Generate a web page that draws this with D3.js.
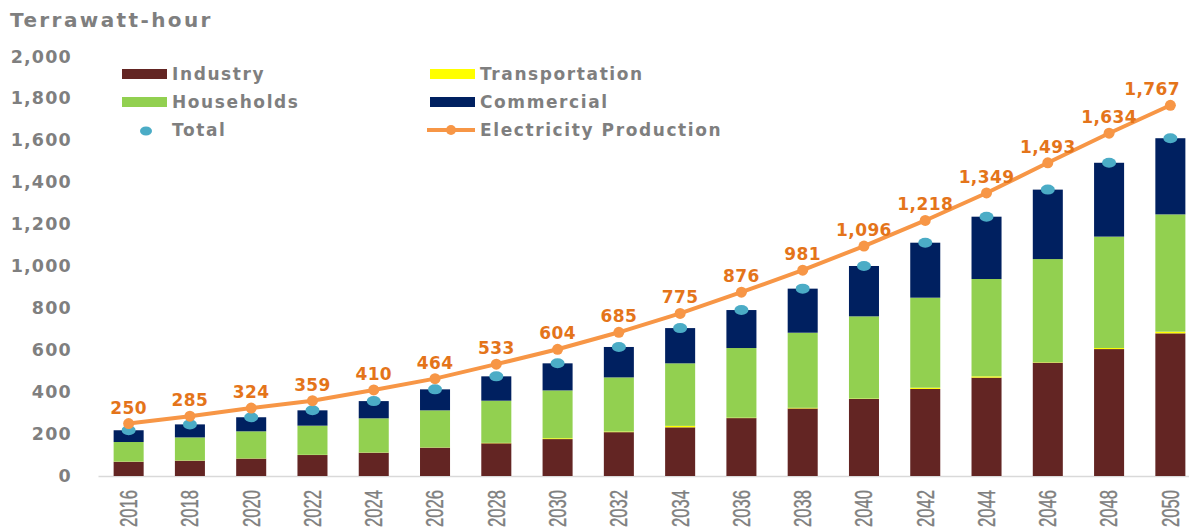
<!DOCTYPE html>
<html>
<head>
<meta charset="utf-8">
<script src="https://cdn.jsdelivr.net/npm/d3@7"></script>
<style>
    body { margin: 0; background: #fff; }
    svg { display: block; }
</style>
</head>
<body>
<div id="chart"></div>
<script>
/*global d3:true*/
var years = ["2016", "2018", "2020", "2022", "2024", "2026", "2028", "2030", "2032",
    "2034", "2036", "2038", "2040", "2042", "2044", "2046", "2048", "2050"];
var industry = [68, 73, 83, 100, 111, 135, 156, 176, 209, 232, 276, 322, 367, 415, 469, 540, 605, 680];
var transportation = [1, 1, 1, 1, 1, 1, 2, 4, 3, 7, 2, 3, 2, 6, 6, 2, 5, 8];
var households = [93, 110, 129, 139, 163, 177, 201, 228, 258, 298, 332, 358, 392, 429, 464, 492, 531, 559];
var commercial = [56, 62, 67, 73, 82, 100, 116, 129, 145, 168, 181, 210, 240, 262, 297, 331, 352, 363];
var total = [218, 246, 280, 313, 357, 413, 475, 537, 615, 705, 791, 893, 1001, 1112, 1236, 1365, 1493, 1610];
var production = [250, 285, 324, 359, 410, 464, 533, 604, 685, 775, 876, 981, 1096, 1218, 1349, 1493, 1634, 1767];
var yTicks = [0, 200, 400, 600, 800, 1000, 1200, 1400, 1600, 1800, 2000];
var seriesNames = ["Industry", "Transportation", "Households", "Commercial"];

var EnergyChart = {
    init: function(){
        this.colours = {
            Industry: "#632523",
            Transportation: "#FFFF00",
            Households: "#92D050",
            Commercial: "#002060",
            total: "#4BACC6",
            line: "#F79646",
            label: "#E4741A",
            text: "#7F7F7F"
        };
        this.width = 1189;
        this.svg = this.createSvgContainer(this.width, 529, "#chart");
        this.x = d3.scaleBand().domain(years).range([98, 1201]).paddingInner(0.51).paddingOuter(0.255);
        this.y = d3.scaleLinear().domain([0, 2000]).range([476, 56.4]);
        this.drawAxes();
        this.drawBars();
        this.drawTotals();
        this.drawProduction();
        this.drawLegend();
    },

    drawAxes: function(){
        var svg = this.svg;

        svg.append("text")
            .text("Terrawatt-hour")
            .attr("x", 10)
            .attr("y", 27)
            .attr("font-family", "DejaVu Sans")
            .attr("font-weight", "bold")
            .attr("font-size", 20)
            .attr("letter-spacing", 2.4)
            .attr("fill", this.colours.text);

        var yAxis = svg.append("g")
            .attr("transform", "translate(72,0)")
            .call(d3.axisLeft(this.y).tickValues(yTicks).tickSize(0).tickPadding(0).tickFormat(d3.format(",")));
        yAxis.select(".domain").remove();
        yAxis.selectAll("text")
            .attr("font-family", "DejaVu Sans")
            .attr("font-weight", "bold")
            .attr("font-size", 17.5)
            .attr("letter-spacing", 1.2)
            .attr("fill", this.colours.text);

        //year labels, rotated and running downwards from under the axis
        //textLength squeezes them to the narrow look of the original
        var xAxis = svg.append("g")
            .attr("transform", "translate(0,476)")
            .call(d3.axisBottom(this.x).tickSize(0).tickPadding(0));
        xAxis.select(".domain")
            .attr("stroke", "#D9D9D9")
            .attr("stroke-width", 1.5);
        xAxis.selectAll("text")
            .attr("font-family", "Liberation Sans, Arial, sans-serif")
            .attr("font-size", 24)
            .attr("textLength", 37)
            .attr("lengthAdjust", "spacingAndGlyphs")
            .attr("fill", this.colours.text)
            .attr("stroke", this.colours.text)
            .attr("stroke-width", 0.4)
            .attr("text-anchor", "end")
            .attr("dy", "0.35em")
            .attr("transform", "translate(0,14) rotate(-90)");
    },

    drawBars: function(){
        var self = this;
        var rows = years.map(function(yr, i){
            return {
                year: yr,
                Industry: industry[i],
                Transportation: transportation[i],
                Households: households[i],
                Commercial: commercial[i]
            };
        });
        var stacked = d3.stack().keys(seriesNames)(rows);

        this.svg.append("g")
            .selectAll("g")
            .data(stacked)
            .join("g")
            .attr("fill", function(s){ return self.colours[s.key]; })
            .selectAll("rect")
            .data(function(s){ return s; })
            .join("rect")
            .attr("x", function(d){ return self.x(d.data.year); })
            .attr("width", this.x.bandwidth())
            .attr("y", function(d){ return self.y(d[1]); })
            .attr("height", function(d){ return self.y(d[0]) - self.y(d[1]); });
    },

    drawTotals: function(){
        var self = this;
        this.svg.append("g")
            .selectAll("ellipse")
            .data(total)
            .join("ellipse")
            .attr("cx", function(d, i){ return self.x(years[i]) + self.x.bandwidth() / 2; })
            .attr("cy", function(d){ return self.y(d); })
            .attr("rx", 7)
            .attr("ry", 5)
            .attr("fill", this.colours.total);
    },

    drawProduction: function(){
        var self = this;
        var cx = function(d, i){ return self.x(years[i]) + self.x.bandwidth() / 2; };
        var line = d3.line()
            .x(cx)
            .y(function(d){ return self.y(d); });

        this.svg.append("path")
            .datum(production)
            .attr("d", line)
            .attr("fill", "none")
            .attr("stroke", this.colours.line)
            .attr("stroke-width", 4);

        this.svg.append("g")
            .selectAll("circle")
            .data(production)
            .join("circle")
            .attr("cx", cx)
            .attr("cy", function(d){ return self.y(d); })
            .attr("r", 5.5)
            .attr("fill", this.colours.line);

        //last label is pushed left so that it stays inside the picture
        var last = production.length - 1;
        this.svg.append("g")
            .selectAll("text")
            .data(production)
            .join("text")
            .text(d3.format(","))
            .attr("x", function(d, i){ return i == last ? self.width - 9 : cx(d, i); })
            .attr("y", function(d){ return self.y(d) - 10; })
            .attr("text-anchor", function(d, i){ return i == last ? "end" : "middle"; })
            .attr("font-family", "DejaVu Sans")
            .attr("font-weight", "bold")
            .attr("font-size", 17)
            .attr("letter-spacing", 0.4)
            .attr("fill", this.colours.label);
    },

    drawLegend: function(){
        var self = this;
        var items = [
            {name: "Industry", type: "rect", col: 0, row: 0},
            {name: "Transportation", type: "rect", col: 1, row: 0},
            {name: "Households", type: "rect", col: 0, row: 1},
            {name: "Commercial", type: "rect", col: 1, row: 1},
            {name: "Total", type: "dot", col: 0, row: 2},
            {name: "Electricity Production", type: "line", col: 1, row: 2}
        ];
        var colX = [122, 430];

        var g = this.svg.append("g");
        items.forEach(function(it){
            var x0 = colX[it.col];
            var yc = 74 + it.row * 28;
            if (it.type == "rect"){
                g.append("rect")
                    .attr("x", x0)
                    .attr("y", yc - 5)
                    .attr("width", 45)
                    .attr("height", 10)
                    .attr("fill", self.colours[it.name]);
            }
            else if (it.type == "dot"){
                g.append("ellipse")
                    .attr("cx", x0 + 24)
                    .attr("cy", yc + 1)
                    .attr("rx", 6)
                    .attr("ry", 4.5)
                    .attr("fill", self.colours.total);
            }
            else{
                g.append("line")
                    .attr("x1", x0 - 3)
                    .attr("x2", x0 + 45)
                    .attr("y1", yc)
                    .attr("y2", yc)
                    .attr("stroke", self.colours.line)
                    .attr("stroke-width", 4);
                g.append("circle")
                    .attr("cx", x0 + 21)
                    .attr("cy", yc)
                    .attr("r", 5)
                    .attr("fill", self.colours.line);
            }
            g.append("text")
                .text(it.name)
                .attr("x", x0 + 50)
                .attr("y", yc)
                .attr("dy", "0.35em")
                .attr("font-family", "DejaVu Sans")
                .attr("font-weight", "bold")
                .attr("font-size", 17)
                .attr("letter-spacing", 1.6)
                .attr("fill", self.colours.text);
        });
    },

    createSvgContainer: function(width, height, div){
        return d3.select(div)
                .append("svg")
                .attr("width", width)
                .attr("height", height)
                .attr("xmlns", "http://www.w3.org/2000/svg")
                .attr("version", "1.1");
    }
};

EnergyChart.init();
</script>
</body>
</html>
